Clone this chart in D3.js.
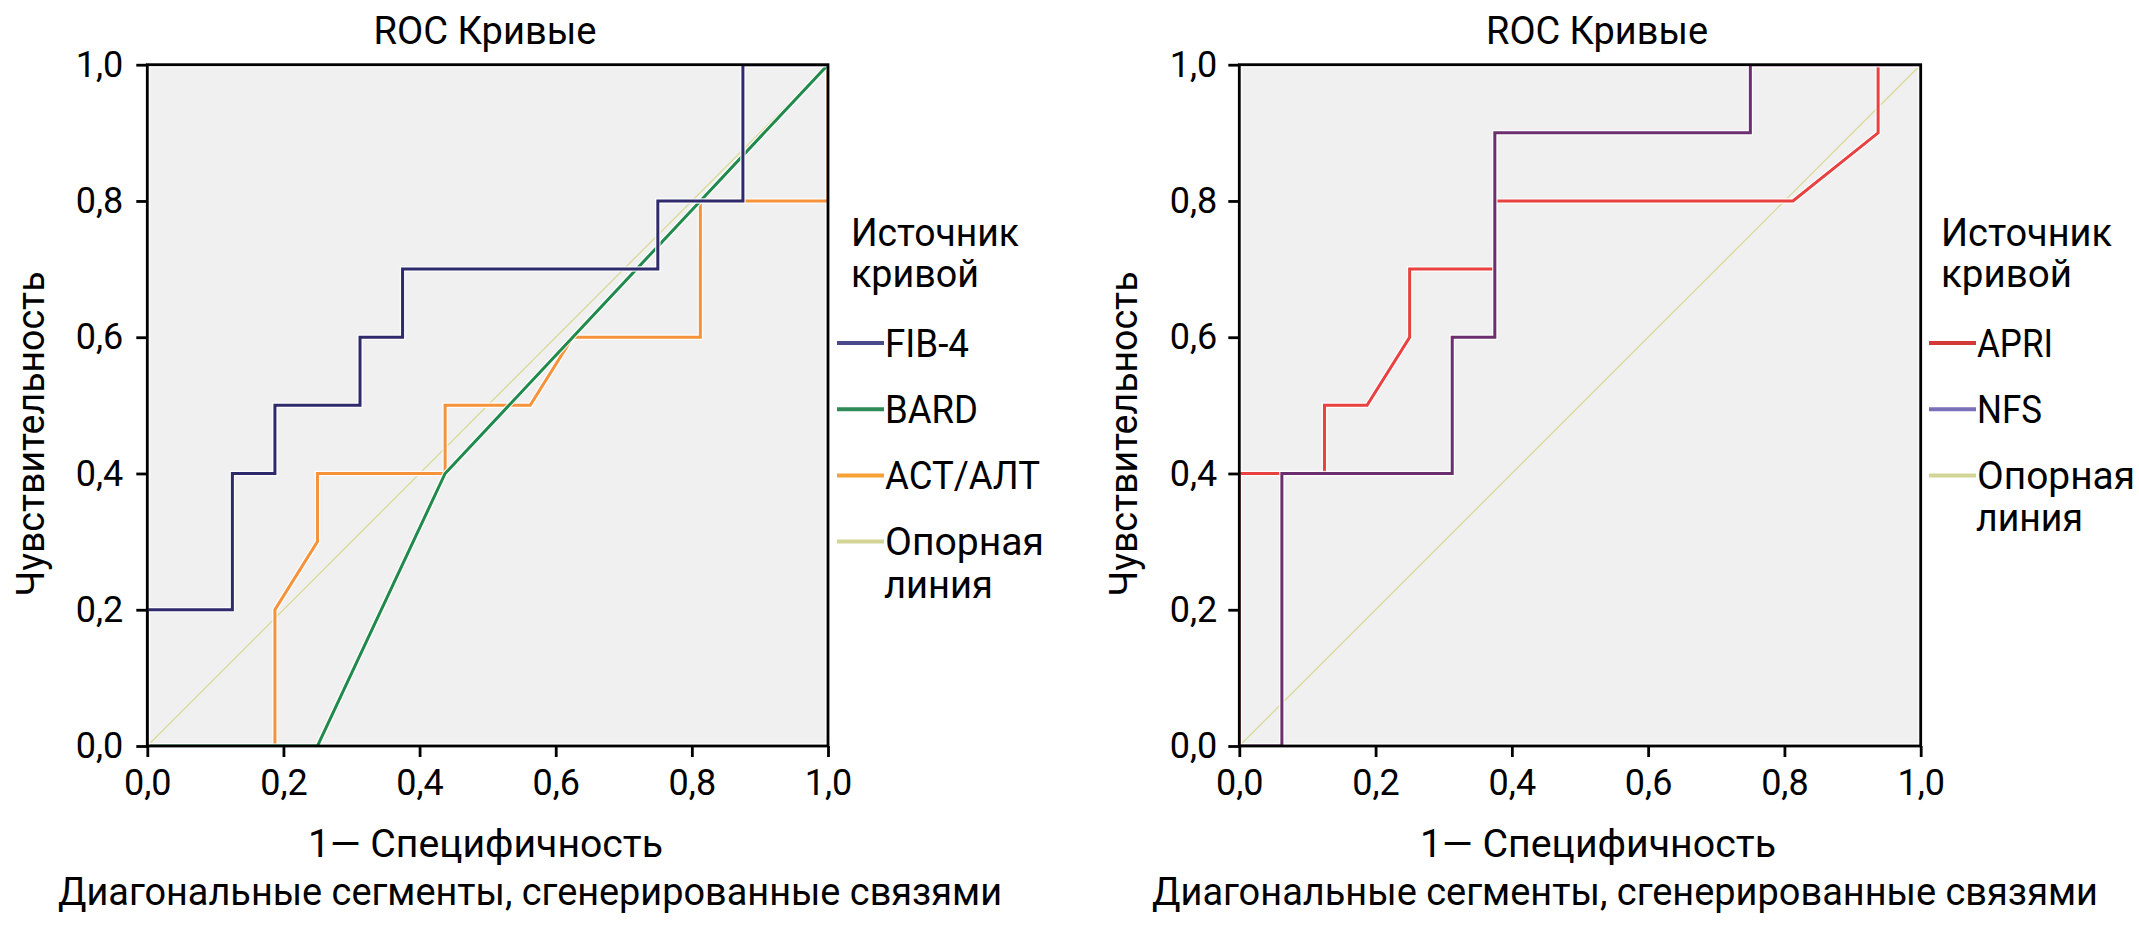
<!DOCTYPE html>
<html><head><meta charset="utf-8">
<script src="https://cdn.jsdelivr.net/npm/d3@7"></script>
<style>
body{margin:0;background:#fff}
svg text{font-family:Roboto,"Noto Sans",sans-serif;fill:#000}
</style>
</head><body>
<svg id="c" width="2139" height="928"></svg>
<script>
// ---------- data ----------
const tickValues = [0, 0.2, 0.4, 0.6, 0.8, 1.0];
const tickLabels = ["0,0", "0,2", "0,4", "0,6", "0,8", "1,0"];
const chartTitle = "ROC Кривые";
const xTitle = "1— Специфичность";
const yTitle = "Чувствительность";
const footnote = "Диагональные сегменты, сгенерированные связями";
const legendTitle = ["Источник", "кривой"];
const refName = ["Опорная", "линия"];

const leftNames = ["FIB-4", "BARD", "АСТ/АЛТ"];
const rightNames = ["APRI", "NFS"];

const fib4X = [0, 0, 0.125, 0.125, 0.1875, 0.1875, 0.3125, 0.3125, 0.375, 0.375, 0.75, 0.75, 0.875, 0.875, 1];
const fib4Y = [0, 0.2, 0.2, 0.4, 0.4, 0.5, 0.5, 0.6, 0.6, 0.7, 0.7, 0.8, 0.8, 1, 1];
const bardX = [0, 0.25, 0.4375, 0.625, 0.8125, 1];
const bardY = [0, 0, 0.4, 0.6, 0.8, 1];
const astAltX = [0, 0.1875, 0.1875, 0.25, 0.25, 0.4375, 0.4375, 0.5625, 0.625, 0.8125, 0.8125, 1, 1];
const astAltY = [0, 0, 0.2, 0.3, 0.4, 0.4, 0.5, 0.5, 0.6, 0.6, 0.8, 0.8, 1];
const apriX = [0, 0, 0.125, 0.125, 0.1875, 0.25, 0.25, 0.375, 0.375, 0.8125, 0.9375, 0.9375, 1];
const apriY = [0, 0.4, 0.4, 0.5, 0.5, 0.6, 0.7, 0.7, 0.8, 0.8, 0.9, 1, 1];
const nfsX = [0, 0.0625, 0.0625, 0.3125, 0.3125, 0.375, 0.375, 0.75, 0.75, 1];
const nfsY = [0, 0, 0.4, 0.4, 0.6, 0.6, 0.9, 0.9, 1, 1];
const refX = [0, 1];
const refY = [0, 1];

// ---------- drawing ----------
const svg = d3.select("#c");
const defs = svg.append("defs");

function fit(t, w) { return t.attr("textLength", w).attr("lengthAdjust", "spacingAndGlyphs"); }

function panel(cfg) {
  const g = svg.append("g");
  const x = d3.scaleLinear().domain([0, 1]).range([cfg.left, cfg.right]);
  const y = d3.scaleLinear().domain([0, 1]).range([cfg.bottom, cfg.top]);

  defs.append("clipPath").attr("id", cfg.id).append("rect")
    .attr("x", cfg.left + 1).attr("y", cfg.top + 1)
    .attr("width", cfg.right - cfg.left - 2).attr("height", cfg.bottom - cfg.top - 2);

  g.append("rect").attr("x", cfg.left).attr("y", cfg.top)
    .attr("width", cfg.right - cfg.left).attr("height", cfg.bottom - cfg.top).attr("fill", "#fafafa");
  g.append("rect").attr("x", cfg.left + 3).attr("y", cfg.top + 3)
    .attr("width", cfg.right - cfg.left - 6).attr("height", cfg.bottom - cfg.top - 6).attr("fill", "#f0f0f0");

  const line = d3.line().x(d => x(d[0])).y(d => y(d[1]));
  const lines = g.append("g").attr("clip-path", `url(#${cfg.id})`);

  // reference line
  lines.append("path").datum(d3.zip(refX, refY)).attr("d", line)
    .attr("fill", "none").attr("stroke", cfg.refColor).attr("stroke-width", 1.4);

  cfg.series.forEach(s => {
    const pts = d3.zip(s.x, s.y);
    lines.append("path").datum(pts).attr("d", line).attr("fill", "none")
      .attr("stroke", "#ffffff").attr("stroke-opacity", 0.85).attr("stroke-width", 5.5);
    lines.append("path").datum(pts).attr("d", line).attr("fill", "none")
      .attr("stroke", s.color).attr("stroke-width", 3).attr("stroke-linejoin", "miter");
  });

  // frame
  g.append("rect").attr("x", cfg.left).attr("y", cfg.top)
    .attr("width", cfg.right - cfg.left).attr("height", cfg.bottom - cfg.top)
    .attr("fill", "none").attr("stroke", "#000").attr("stroke-width", 2.8);

  // axes
  const ya = g.append("g").attr("transform", `translate(${cfg.left},0)`)
    .call(d3.axisLeft(y).tickValues(tickValues).tickFormat((d, i) => tickLabels[i])
      .tickSize(11).tickSizeOuter(0).tickPadding(cfg.yPad));
  const xa = g.append("g").attr("transform", `translate(0,${cfg.bottom})`)
    .call(d3.axisBottom(x).tickValues(tickValues).tickFormat((d, i) => tickLabels[i])
      .tickSize(11).tickSizeOuter(0).tickPadding(12));
  [ya, xa].forEach(a => {
    a.select(".domain").remove();
    a.attr("font-family", null).attr("font-size", 36);
    a.selectAll("line").attr("stroke", "#000").attr("stroke-width", 2.8);
  });

  // titles
  fit(g.append("text").attr("x", cfg.titleX).attr("y", 44).attr("text-anchor", "middle")
    .attr("font-size", 38).text(chartTitle), cfg.titleW);
  fit(g.append("text").attr("x", cfg.xTitleX).attr("y", 857).attr("font-size", 38).text(xTitle), cfg.xTitleW);
  fit(g.append("text").attr("x", cfg.footX).attr("y", 905).attr("font-size", 38).text(footnote), cfg.footW);
  fit(g.append("text").attr("transform", `translate(${cfg.yTitleX},434) rotate(-90)`)
    .attr("text-anchor", "middle").attr("font-size", 38).text(yTitle), 325);

  // legend
  fit(g.append("text").attr("x", cfg.legTitleX).attr("y", 246).attr("font-size", 38).text(legendTitle[0]), cfg.legTitleW[0]);
  fit(g.append("text").attr("x", cfg.legTitleX).attr("y", 287).attr("font-size", 38).text(legendTitle[1]), cfg.legTitleW[1]);

  const items = cfg.legend.map((s, i) => ({ name: s.name, color: s.legColor, w: cfg.legW[i] }));
  items.push({ name: refName[0], color: cfg.refLegColor, w: cfg.legW[items.length], second: refName[1], w2: cfg.legW[items.length + 1] });
  items.forEach((it, i) => {
    const ly = 343 + i * 66.2;
    g.append("line").attr("x1", cfg.legLineX).attr("x2", cfg.legLineX + 47)
      .attr("y1", ly).attr("y2", ly).attr("stroke", it.color).attr("stroke-width", 4);
    fit(g.append("text").attr("x", cfg.legLineX + 48).attr("y", ly + 13.5).attr("font-size", 38).text(it.name), it.w);
    if (it.second) {
      fit(g.append("text").attr("x", cfg.legLineX + 47).attr("y", ly + 56).attr("font-size", 38).text(it.second), it.w2);
    }
  });
}

const fib4 = { name: leftNames[0], x: fib4X, y: fib4Y, color: "#2f2a6b", legColor: "#4b4b8c" };
const bard = { name: leftNames[1], x: bardX, y: bardY, color: "#1f8a4c", legColor: "#2e8b57" };
const astAlt = { name: leftNames[2], x: astAltX, y: astAltY, color: "#f5923a", legColor: "#f7a035" };
const apri = { name: rightNames[0], x: apriX, y: apriY, color: "#e94040", legColor: "#d23a3a" };
const nfs = { name: rightNames[1], x: nfsX, y: nfsY, color: "#6b2f6e", legColor: "#7a70b8" };

panel({
  id: "clipL", left: 147.3, right: 828, top: 64.7, bottom: 746, yPad: 13,
  titleX: 485, titleW: 223, xTitleX: 308, xTitleW: 355, footX: 58, footW: 944, yTitleX: 44,
  legTitleX: 851, legTitleW: [168, 128], legLineX: 837, legW: [84, 93, 155, 159, 109],
  refColor: "#dadb9c", refLegColor: "#d3d596",
  series: [astAlt, bard, fib4],
  legend: [fib4, bard, astAlt]
});

panel({
  id: "clipR", left: 1239.3, right: 1920.7, top: 64.7, bottom: 746, yPad: 11,
  titleX: 1597, titleW: 222, xTitleX: 1420, xTitleW: 356, footX: 1152, footW: 946, yTitleX: 1137,
  legTitleX: 1941, legTitleW: [171, 131], legLineX: 1929, legW: [76, 65, 158, 107],
  refColor: "#dadb9c", refLegColor: "#d3d596",
  series: [apri, nfs],
  legend: [apri, nfs]
});
</script>
</body></html>
